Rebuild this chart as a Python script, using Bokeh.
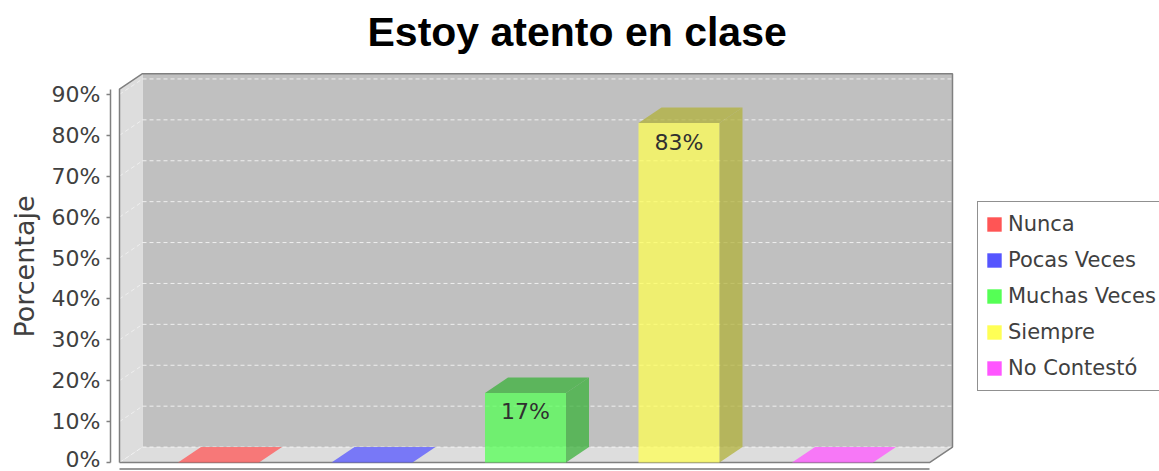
from bokeh.plotting import figure
from bokeh.models import (Range1d, FixedTicker, PrintfTickFormatter, ColumnDataSource,
                          Legend, LegendItem)
from bokeh.embed import file_html
from bokeh.resources import INLINE
from bokeh.core.properties import value

# ---------------- data ----------------
TITLE = "Estoy atento en clase"
Y_LABEL = "Porcentaje"
CATEGORIES = ["Nunca", "Pocas Veces", "Muchas Veces", "Siempre", "No Contestó"]
PERCENTAGES = [0, 0, 17, 83, 0]
Y_TICKS = [0, 10, 20, 30, 40, 50, 60, 70, 80, 90]
SERIES_COLORS = ["#ff5555", "#5555ff", "#55ff55", "#ffff55", "#ff55ff"]

# ---------------- layout (pixels, canvas coordinates) ----------------
W, H = 1159, 471
FRAME_LEFT = 110
FRAME_TOP = 60
ZERO_Y = 462          # canvas y of 0 %
PX_PER_PCT = 4.1
CAT_PX = 153.5        # distance between category centres
CAT0_X = 218          # canvas x of first category centre
WALL_LEFT_PX = 119
WALL_RIGHT_PX = 929
DEPTH_X_PX = 23
DEPTH_Y_PX = 15.5
BAR_W_PX = 81
Y_MAX_FRONT = 91.3
AXIS_LINE_PX = 468.5

x_start = (FRAME_LEFT - CAT0_X) / CAT_PX
x_end = (W - CAT0_X) / CAT_PX
y_start = -(H - ZERO_Y) / PX_PER_PCT
y_end = (ZERO_Y - FRAME_TOP) / PX_PER_PCT

XL = (WALL_LEFT_PX - CAT0_X) / CAT_PX
XR = (WALL_RIGHT_PX - CAT0_X) / CAT_PX
DX = DEPTH_X_PX / CAT_PX
DY = DEPTH_Y_PX / PX_PER_PCT
BAR_W = BAR_W_PX / CAT_PX
AXIS_Y = -(AXIS_LINE_PX - ZERO_Y) / PX_PER_PCT


def darker(c, f=0.7):
    r, g, b = int(c[1:3], 16), int(c[3:5], 16), int(c[5:7], 16)
    return "#%02x%02x%02x" % (int(r * f), int(g * f), int(b * f))


p = figure(width=W, height=H, x_range=Range1d(x_start, x_end), y_range=Range1d(y_start, y_end),
           output_backend="svg", toolbar_location=None, x_axis_location=None,
           min_border_left=FRAME_LEFT, min_border_right=0, min_border_top=FRAME_TOP,
           min_border_bottom=0, background_fill_color="white", border_fill_color="white",
           outline_line_color=None)
p.grid.visible = False

# title
p.title.text = TITLE
p.title.text_font = "Liberation Sans"
p.title.text_font_style = "bold"
p.title.text_font_size = "41px"
p.title.text_color = "#000000"
p.title.align = "left"
p.title.offset = 257
p.title.standoff = 13

# ---------------- 3D walls ----------------
p.quad(left=XL + DX, right=XR + DX, bottom=DY, top=Y_MAX_FRONT + DY,
       fill_color="#c0c0c0", line_color=None)
p.patch([XL, XL, XL + DX, XL + DX], [0, Y_MAX_FRONT, Y_MAX_FRONT + DY, DY],
        fill_color="#dddddd", line_color=None)
p.patch([XL, XR, XR + DX, XL + DX], [0, 0, DY, DY], fill_color="#dddddd", line_color=None)

n = len(Y_TICKS)
p.segment(x0=[XL + DX] * n, y0=[t + DY for t in Y_TICKS], x1=[XR + DX] * n,
          y1=[t + DY for t in Y_TICKS], line_color="#ffffff", line_alpha=0.75,
          line_width=1, line_dash="4 3")
p.segment(x0=[XL] * n, y0=Y_TICKS, x1=[XL + DX] * n, y1=[t + DY for t in Y_TICKS],
          line_color="#ffffff", line_alpha=0.5, line_width=1, line_dash="4 3")

p.line([XL, XL, XL + DX, XR + DX, XR + DX, XR, XL],
       [0, Y_MAX_FRONT, Y_MAX_FRONT + DY, Y_MAX_FRONT + DY, DY, 0, 0],
       line_color="#808080", line_width=1.5)

# category axis line
p.segment(x0=[XL], y0=[AXIS_Y], x1=[XR], y1=[AXIS_Y], line_color="#999999", line_width=2)

# ---------------- bars ----------------
xs = list(range(len(CATEGORIES)))
lefts = [x - BAR_W / 2 for x in xs]
rights = [x + BAR_W / 2 for x in xs]
dark = [darker(c) for c in SERIES_COLORS]
top_cols = [d if v > 0 else c for v, c, d in zip(PERCENTAGES, SERIES_COLORS, dark)]

front = ColumnDataSource(dict(left=lefts, right=rights, top=PERCENTAGES,
                              bottom=[0] * len(xs), color=SERIES_COLORS))
p.quad(left="left", right="right", top="top", bottom="bottom", source=front,
       fill_color="color", fill_alpha=0.75, line_color=None)

sides = ColumnDataSource(dict(
    xs=[[r, r, r + DX, r + DX] for r in rights],
    ys=[[0, v, v + DY, DY] for v in PERCENTAGES],
    color=dark))
p.patches("xs", "ys", source=sides, fill_color="color", fill_alpha=0.75, line_color=None)

tops = ColumnDataSource(dict(
    xs=[[l, r, r + DX, l + DX] for l, r in zip(lefts, rights)],
    ys=[[v, v, v + DY, v + DY] for v in PERCENTAGES],
    color=top_cols))
p.patches("xs", "ys", source=tops, fill_color="color", fill_alpha=0.75, line_color=None)

lab_x = [x for x, v in zip(xs, PERCENTAGES) if v > 0]
lab_v = [v for v in PERCENTAGES if v > 0]
labels = ColumnDataSource(dict(x=lab_x, y=[v - 19 / PX_PER_PCT for v in lab_v],
                               text=["%d%%" % v for v in lab_v]))
p.text(x="x", y="y", text="text", source=labels, text_align="center",
       text_baseline="middle", text_font=value("DejaVu Sans"), text_font_size="22px",
       text_color="#303030")

# ---------------- legend ----------------
swatch_src = ColumnDataSource(dict(left=lefts, right=rights, top=[0] * len(xs),
                                   bottom=[0] * len(xs), color=SERIES_COLORS))
swatches = p.quad(left="left", right="right", top="top", bottom="bottom", source=swatch_src,
                  fill_color="color", line_color=None)
items = [LegendItem(label=cat, renderers=[swatches], index=i)
         for i, cat in enumerate(CATEGORIES)]
legend = Legend(items=items, location=(977 - FRAME_LEFT, H - 391), orientation="vertical",
                label_text_font="DejaVu Sans", label_text_font_size="21px",
                label_text_color="#404040", glyph_width=18, glyph_height=18,
                label_height=30, spacing=6, padding=7, label_standoff=5, margin=0,
                border_line_color="#222222", border_line_width=1.5,
                background_fill_color="#ffffff", background_fill_alpha=1.0)
p.add_layout(legend)

# ---------------- y axis ----------------
ax = p.yaxis[0]
ax.ticker = FixedTicker(ticks=Y_TICKS)
ax.formatter = PrintfTickFormatter(format="%d%%")
ax.bounds = (0, Y_MAX_FRONT)
ax.axis_line_color = "#808080"
ax.axis_line_width = 1.5
ax.major_tick_line_color = "#808080"
ax.major_tick_line_width = 1.5
ax.major_tick_out = 4
ax.major_tick_in = 0
ax.minor_tick_line_color = None
ax.major_label_text_font = "DejaVu Sans"
ax.major_label_text_font_size = "22px"
ax.major_label_text_color = "#404040"
ax.major_label_standoff = 6
ax.axis_label = Y_LABEL
ax.axis_label_text_font = "DejaVu Sans"
ax.axis_label_text_font_size = "27px"
ax.axis_label_text_font_style = "normal"
ax.axis_label_text_color = "#404040"
ax.axis_label_standoff = 9

open("out.html", "w").write(file_html(p, INLINE))
